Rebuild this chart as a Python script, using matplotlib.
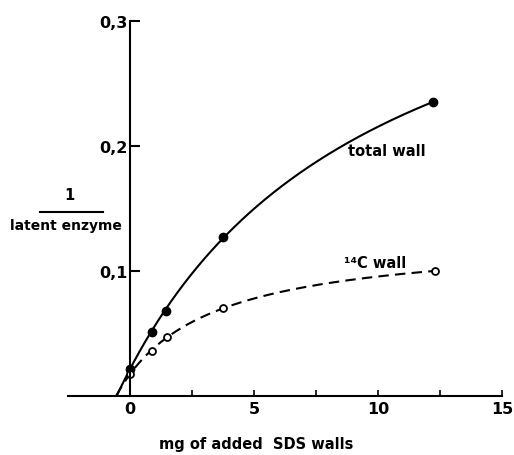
import numpy as np
import matplotlib.pyplot as plt
from matplotlib.lines import Line2D

plt.rcParams['font.family'] = ['DejaVu Sans']

# mg of added SDS walls vs 1/latent enzyme
total_x = [0.0, 0.87, 1.45, 3.75, 12.2]
total_y = [0.021, 0.051, 0.068, 0.127, 0.235]
c14_x = [0.0, 0.9, 1.5, 3.75, 12.3]
c14_y = [0.017, 0.036, 0.047, 0.070, 0.0998]
# where the fitted curves meet the baseline
total_x0 = -0.53
c14_x0 = -0.55

ytick_vals = [0.1, 0.2, 0.3]
ytick_labels = ['0,1', '0,2', '0,3']
xtick_vals = [0, 5, 10, 15]


def hyperbola(x, y, x0):
    # least squares fit of y = A*u/(K+u), u = x - x0
    u = np.asarray(x) - x0
    y = np.asarray(y)
    M = np.column_stack([u, -y])
    (A, K), *_ = np.linalg.lstsq(M, y * u, rcond=None)
    return lambda xs: A * (xs - x0) / (K + xs - x0)


fig = plt.figure(figsize=(5.14, 4.56), dpi=100)
W, H = 514, 456
ax = fig.add_axes([68 / W, 1 - 396.5 / H, (502 - 68) / W, (396.5 - 22) / H])

f_tot = hyperbola(total_x, total_y, total_x0)
xs = np.linspace(total_x0, total_x[-1], 400)
ax.plot(xs, f_tot(xs), 'k-', lw=1.5)
ax.plot(total_x, total_y, 'ko', ms=6)

f_c14 = hyperbola(c14_x, c14_y, c14_x0)
xs = np.linspace(c14_x0, c14_x[-1], 400)
ax.plot(xs, f_c14(xs), 'k--', lw=1.5, dashes=(5, 3))
ax.plot(c14_x, c14_y, 'o', ms=5, mfc='white', mec='black', mew=1.3)

ax.set_xlim(-2.5, 15)
ax.set_ylim(0, 0.3)

for s in ['top', 'right']:
    ax.spines[s].set_visible(False)
ax.spines['left'].set_position(('data', 0))
ax.spines['left'].set_linewidth(1.5)
ax.spines['bottom'].set_linewidth(1.5)

ax.set_yticks(ytick_vals)
ax.set_yticklabels(ytick_labels, fontsize=11.5, fontweight='bold')
ax.tick_params(axis='y', direction='in', length=7, width=1.5, pad=2)

ax.set_xticks(xtick_vals)
ax.set_xticks([2.5, 7.5, 12.5], minor=True)
ax.set_xticklabels([str(v) for v in xtick_vals], fontsize=11.5,
                   fontweight='bold')
ax.tick_params(axis='x', which='both', direction='in', length=4, width=1.2,
               pad=4)

fig.text(387 / W, 1 - 152 / H, 'total wall', fontsize=10.5,
         fontweight='bold', ha='center', va='center')
fig.text(375 / W, 1 - 264 / H, '¹⁴C wall', fontsize=10.5,
         fontweight='bold', ha='center', va='center')

# y-axis label written as a fraction
fig.text(69 / W, 1 - 196 / H, '1', fontsize=10.5, fontweight='bold',
         ha='center', va='center')
fig.add_artist(Line2D([40 / W, 103 / W], [1 - 213 / H, 1 - 213 / H],
                      color='black', lw=1.5))
fig.text(66 / W, 1 - 226 / H, 'latent enzyme', fontsize=10,
         fontweight='bold', ha='center', va='center')

fig.text(256 / W, 1 - 445 / H, 'mg of added  SDS walls', fontsize=10.5,
         fontweight='bold', ha='center', va='center')

fig.savefig('out.png', dpi=100)
